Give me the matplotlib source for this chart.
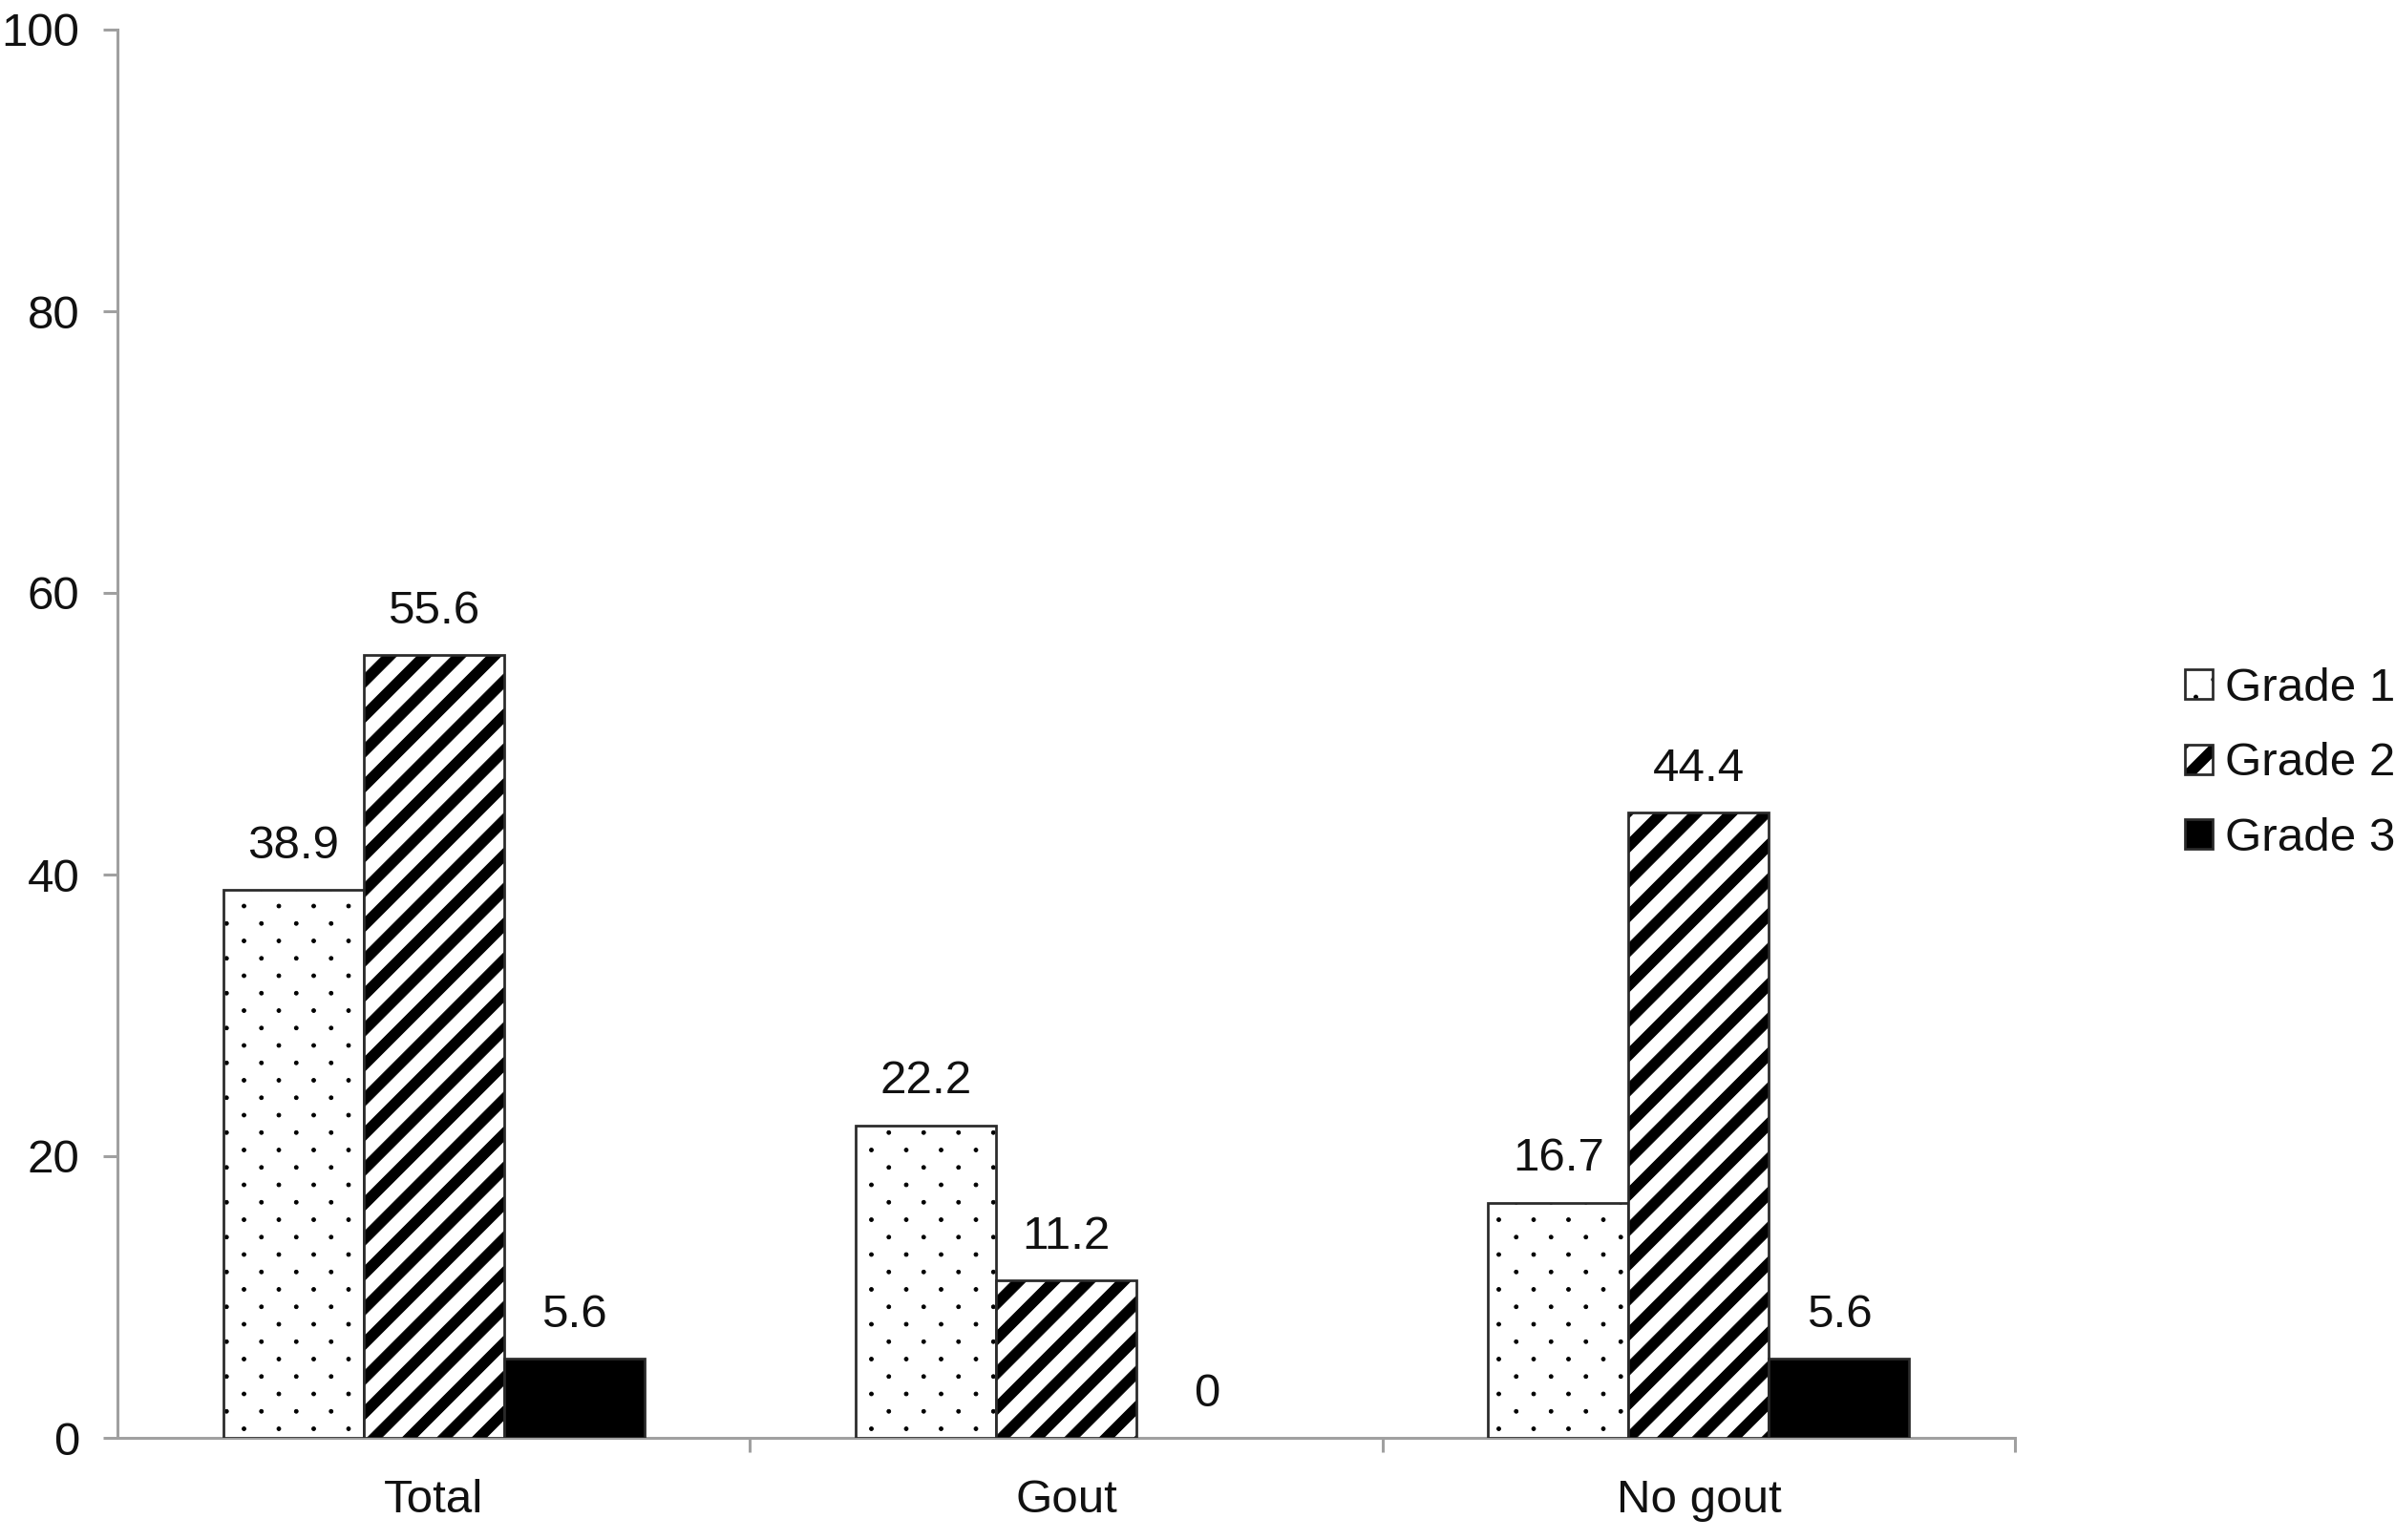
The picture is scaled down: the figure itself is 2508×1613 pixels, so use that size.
import matplotlib
matplotlib.use("Agg")
import matplotlib.pyplot as plt
import matplotlib.hatch as mhatch
from matplotlib.path import Path
import numpy as np

categories = ["Total", "Gout", "No gout"]
series_names = ["Grade 1", "Grade 2", "Grade 3"]
grade1 = [38.9, 22.2, 16.7]
grade2 = [55.6, 11.2, 44.4]
grade3 = [5.6, 0, 5.6]
value_labels = [["38.9", "22.2", "16.7"], ["55.6", "11.2", "44.4"], ["5.6", "0", "5.6"]]
yticks = [0, 20, 40, 60, 80, 100]


# ---- custom hatch textures (dots on a staggered grid, thick diagonal bands) ----
class DotHatch(mhatch.HatchPatternBase):
    radius = 0.0088

    def __init__(self, hatch, density):
        n = hatch.count('.')
        self.num_vertices = 0
        if n == 0:
            return
        c = 6 * n
        circ = Path.unit_circle()
        self.cv = circ.vertices
        self.cc = circ.codes
        pts = []
        for row in range(2 * c + 1):
            y = row / (2 * c)
            if row % 2 == 0:
                xs = np.linspace(0, 1, c + 1)
            else:
                xs = np.linspace(0.5 / c, 1 - 0.5 / c, c)
            for xx in xs:
                pts.append((xx, y))
        self.pts = np.array(pts)
        self.num_vertices = len(self.pts) * len(self.cv)

    def set_vertices_and_codes(self, vertices, codes):
        k = len(self.cv)
        for i, (px, py) in enumerate(self.pts):
            vertices[i * k:(i + 1) * k] = self.cv * self.radius + (px, py)
            codes[i * k:(i + 1) * k] = self.cc


class BandHatch(mhatch.HatchPatternBase):
    thickness = 0.068

    def __init__(self, hatch, density):
        n = hatch.count('/')
        self.num_vertices = 0
        if n == 0:
            return
        m = 6 * n
        self.offsets = np.arange(-m, m + 1) / m
        self.num_vertices = len(self.offsets) * 5

    def set_vertices_and_codes(self, vertices, codes):
        h = self.thickness / 2
        for i, a in enumerate(self.offsets):
            vertices[i * 5:(i + 1) * 5] = [(-0.5, -0.5 + a - h), (1.5, 1.5 + a - h),
                                           (1.5, 1.5 + a + h), (-0.5, -0.5 + a + h),
                                           (-0.5, -0.5 + a - h)]
            codes[i * 5:(i + 1) * 5] = [Path.MOVETO, Path.LINETO, Path.LINETO,
                                        Path.LINETO, Path.CLOSEPOLY]


_types = []
for t in mhatch._hatch_types:
    if t is mhatch.NorthEastHatch:
        _types.append(BandHatch)
    elif t is mhatch.SmallFilledCircles:
        _types.append(DotHatch)
    else:
        _types.append(t)
mhatch._hatch_types[:] = _types

plt.rcParams['font.family'] = ['Liberation Sans', 'DejaVu Sans']
plt.rcParams['hatch.linewidth'] = 0.3

DPI = 219
FS = 16.2
W, H = 2508, 1613
fig = plt.figure(figsize=(W / DPI, H / DPI), dpi=DPI)
ax = fig.add_axes([123 / W, 1 - 1506 / H, (2110 - 123) / W, (1506 - 31) / H])

x = np.arange(len(categories))
bw = 0.222
series = [grade1, grade2, grade3]
styles = [dict(facecolor="white", hatch="."),
          dict(facecolor="white", hatch="/"),
          dict(facecolor="black", hatch=None)]
edge = "#2a2a2a"
handles = []
for i, (vals, st) in enumerate(zip(series, styles)):
    bars = ax.bar(x + (i - 1) * bw, vals, width=bw, edgecolor=edge, linewidth=0.9,
                  label=series_names[i], zorder=3, **st)
    for b, v in zip(bars, vals):
        try:
            b._hatch_color = (0, 0, 0, 1)
        except Exception:
            pass
        if v == 0:
            b.set_linewidth(0)
    handles.append(bars)
    for xi, v, lab in zip(x + (i - 1) * bw, vals, value_labels[i]):
        ax.text(xi, v + 3.1, lab, ha="center", va="center", fontsize=FS, color="#111111")

ax.set_xlim(-0.5, 2.5)
ax.set_ylim(0, 100)
ax.set_yticks(yticks)
ax.set_yticklabels([str(t) for t in yticks])
ax.set_xticks(x)
ax.set_xticklabels(categories)
ax.set_xticks([0.5, 1.5, 2.5], minor=True)
ax.tick_params(axis="x", which="major", length=0, pad=14, labelsize=FS, labelcolor="#111111")
ax.tick_params(axis="x", which="minor", length=5, width=1.0, color="#a0a0a0")
ax.tick_params(axis="y", which="major", length=5, width=1.0, color="#a0a0a0", pad=8,
               labelsize=FS, labelcolor="#111111")

for s in ["top", "right"]:
    ax.spines[s].set_visible(False)
for s in ["left", "bottom"]:
    ax.spines[s].set_color("#a0a0a0")
    ax.spines[s].set_linewidth(1.0)

leg = fig.legend(handles=handles, labels=series_names, loc="center left",
                 bbox_to_anchor=(2288 / W, 1 - 800 / H), frameon=False, fontsize=FS,
                 handlelength=0.59, handleheight=0.59, handletextpad=0.27,
                 labelspacing=0.68, borderpad=0, borderaxespad=0)
for t in leg.get_texts():
    t.set_color("#111111")

fig.savefig("out.png", dpi=DPI, facecolor="white")
